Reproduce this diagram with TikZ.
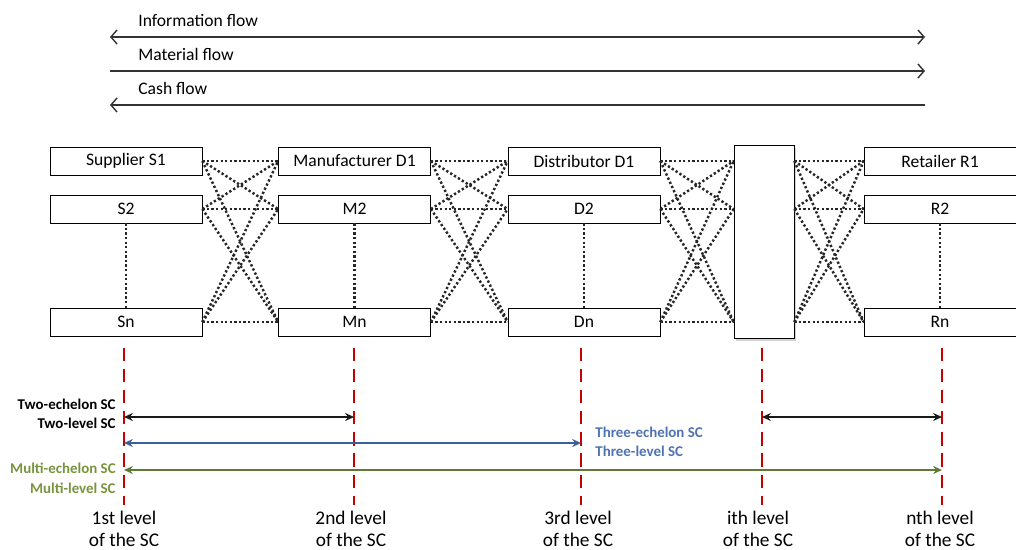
\documentclass[tikz,border=0pt]{standalone}
\usepackage{fontspec}
\setmainfont{Carlito}
\usepackage{xcolor}
\usepackage{tikz}
\usetikzlibrary{arrows.meta,positioning,shadows}
\definecolor{lvred}{rgb}{0.78,0.0,0.0}
\definecolor{scblue}{rgb}{0.24,0.37,0.61}
\definecolor{scbluetxt}{rgb}{0.31,0.45,0.70}
\definecolor{scgreen}{rgb}{0.37,0.48,0.21}
\definecolor{scgreentxt}{rgb}{0.47,0.58,0.24}

\begin{document}
\begin{tikzpicture}[x=0.02cm, y=-0.02cm,
      barb/.tip={Straight Barb[length=3.5pt,width=8pt]},
      sharp/.tip={Stealth[length=5pt,width=4.5pt]},
      member/.style={draw, fill=white, minimum width=3.04cm, minimum height=0.56cm,
                     inner sep=0pt, font=\fontsize{10}{12}\selectfont},
      link/.style={line width=1.4pt, dash pattern=on 1.3pt off 1.3pt, color=black!85},
      flow/.style={line width=0.8pt, color=black!80},
      flowtxt/.style={anchor=south west, inner sep=0pt, font=\fontsize{10}{12}\selectfont},
      level/.style={lvred, line width=1.2pt, dash pattern=on 7.5pt off 4.5pt},
      span/.style={line width=1.1pt, sharp-sharp},
      spantxt/.style={inner sep=0pt, font=\fontsize{8.5}{10.5}\selectfont\bfseries},
      leveltxt/.style={align=center, inner sep=0pt, font=\fontsize{11}{12.4}\selectfont}
  ]
    \useasboundingbox (0,0) rectangle (1016,550);

    \coordinate (infoL) at (110,37);  \coordinate (infoR) at (925,37);
    \coordinate (matL)  at (110,71);  \coordinate (matR)  at (925,71);
    \coordinate (cashL) at (110,105); \coordinate (cashR) at (925,105);
    \draw[flow, barb-barb] (infoL) -- (infoR);
    \draw[flow, -barb] (matL) -- (matR);
    \draw[flow, barb-] (cashL) -- (cashR);
    \node[flowtxt] (info) at (138,27) {Information flow};
    \node[flowtxt] (mat) at (138,61) {Material flow};
    \node[flowtxt] (cash) at (138,95) {Cash flow};

    \node[member] (s1) at (126,161) {Supplier S1};
    \node[member] (s2) at (126,209) {S2};
    \node[member] (s3) at (126,322) {Sn};
    \node[member] (m1) at (354.5,161) {Manufacturer D1};
    \node[member] (m2) at (354.5,209) {M2};
    \node[member] (m3) at (354.5,322) {Mn};
    \node[member] (d1) at (584,161) {Distributor D1};
    \node[member] (d2) at (584,209) {D2};
    \node[member] (d3) at (584,322) {Dn};
    \node[member] (r1) at (940,161) {Retailer R1};
    \node[member] (r2) at (940,209) {R2};
    \node[member] (r3) at (940,322) {Rn};
    \node[draw, fill=white, minimum width=1.2cm, minimum height=3.86cm, inner sep=0pt,
          drop shadow={opacity=0.35, shadow xshift=1pt, shadow yshift=-1.5pt}] (mid) at (764,241.5) {};
    \foreach \i in {1,2,3} {
      \coordinate (il\i) at (mid.west |- s\i.east);
      \coordinate (ir\i) at (mid.east |- s\i.east);
    }

    \foreach \a/\b in {s/m, m/d}
      \foreach \i in {1,2,3}
        \foreach \j in {1,2,3}
          \draw[link] (\a\i.east) -- (\b\j.west);
    \foreach \i in {1,2,3}
      \foreach \j in {1,2,3} {
        \draw[link] (d\i.east) -- (il\j);
        \draw[link] (ir\i) -- (r\j.west);
      }
    \foreach \a in {s,m,d,r}
      \draw[link] (\a2.south) -- (\a3.north);

    \foreach \n/\x in {1/124, 2/354, 3/581, 4/762, 5/942} {
      \coordinate (top\n) at (\x,348);
      \coordinate (bot\n) at (\x,505);
      \coordinate (two\n) at (\x,417);
      \coordinate (three\n) at (\x,443);
      \coordinate (multi\n) at (\x,470);
      \draw[level] (top\n) -- (bot\n);
    }

    \draw[span, color=black!90] (two1) -- (two2);
    \draw[span, color=black!90] (two4) -- (two5);
    \draw[span, color=scblue] (three1) -- (three3);
    \draw[span, color=scgreen] (multi1) -- (multi5);

    \node[spantxt, align=right, anchor=east] (twotxt) at (116,414) {Two-echelon SC\\[0pt]Two-level SC};
    \node[spantxt, align=left, anchor=west, text=scbluetxt] (threetxt) at (595,442) {Three-echelon SC\\[0pt]Three-level SC};
    \node[spantxt, align=right, anchor=east, text=scgreentxt] (multitxt) at (116,478) {Multi-echelon SC\\[1pt]Multi-level SC};

    \node[leveltxt] (lab1) at (124,529) {1st level\\of the SC};
    \node[leveltxt] (lab2) at (351,529) {2nd level\\of the SC};
    \node[leveltxt] (lab3) at (578,529) {3rd level\\of the SC};
    \node[leveltxt] (lab4) at (758,529) {ith level\\of the SC};
    \node[leveltxt] (lab5) at (940,529) {nth level\\of the SC};
\end{tikzpicture}
\end{document}
